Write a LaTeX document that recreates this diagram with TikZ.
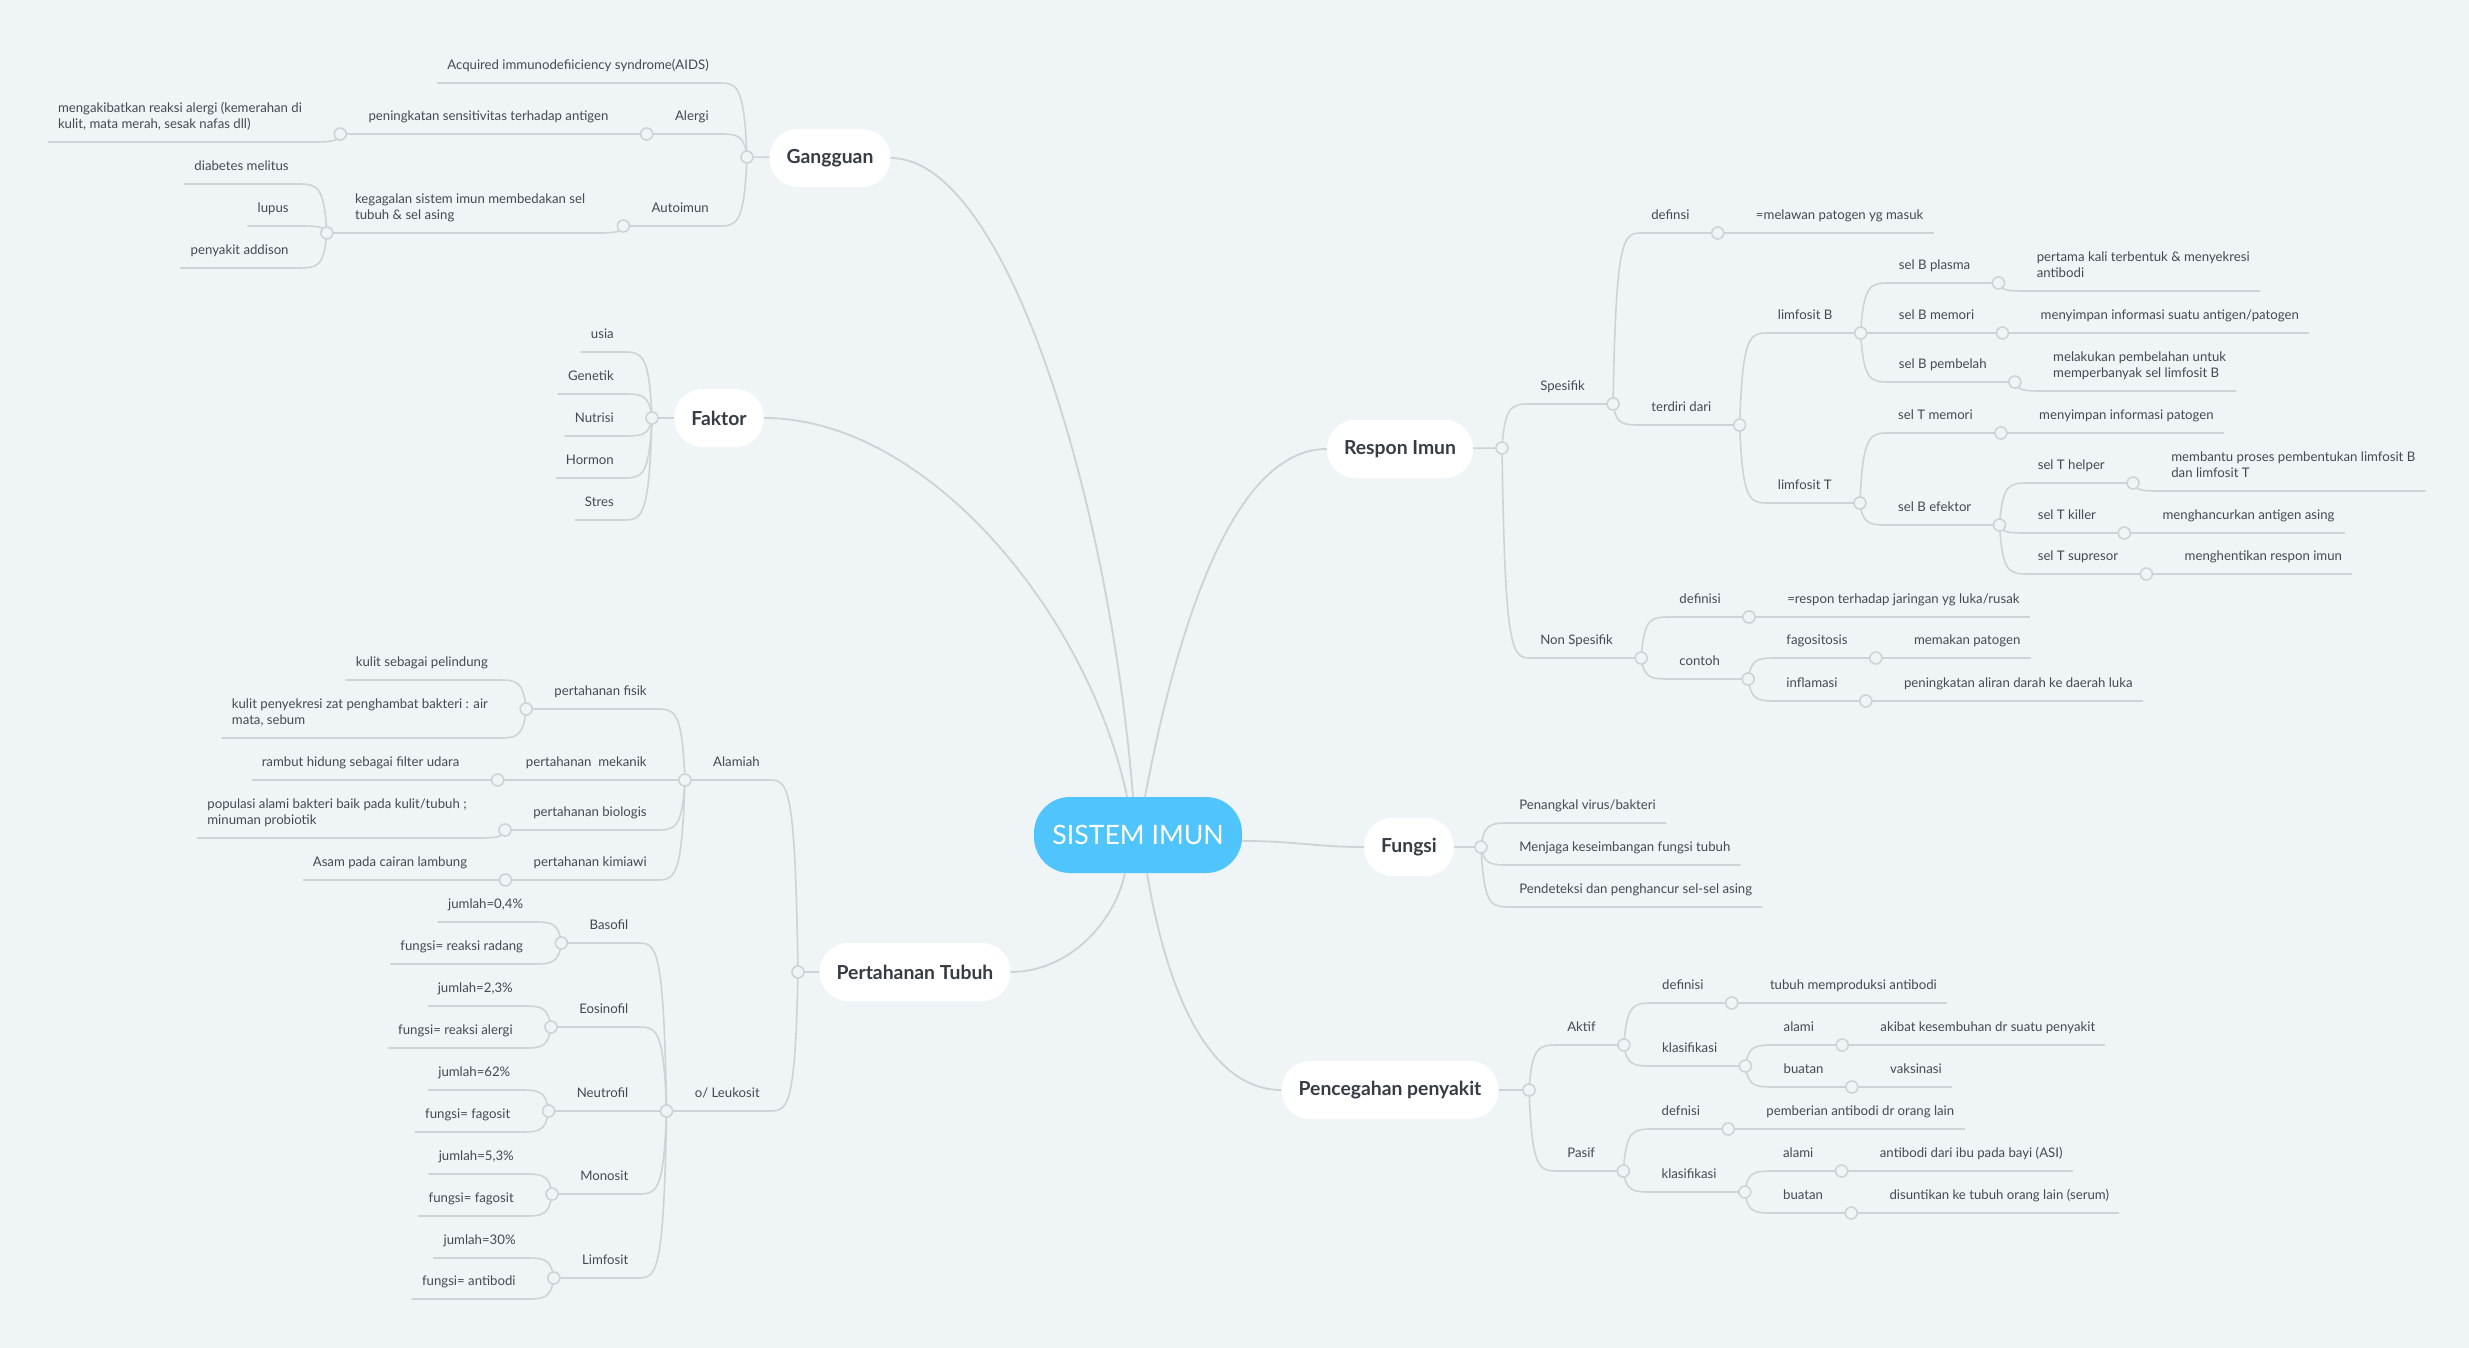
\documentclass[tikz,border=0pt]{standalone}
\usepackage{fontspec}
\setmainfont{Lato}
\usetikzlibrary{calc}

\definecolor{paper}{HTML}{EFF4F7}
\definecolor{wire}{HTML}{CED3D7}
\definecolor{ink}{HTML}{434A51}
\definecolor{topicink}{HTML}{353C43}
\definecolor{hubblue}{HTML}{50C4FD}

\pgfdeclarelayer{front}
\pgfsetlayers{main,front}

\newcommand{\twoline}[2]{\begin{tabular}[b]{@{}l@{}}#1\\#2\end{tabular}}
\newcommand{\joint}[1]{\begin{pgfonlayer}{front}\draw[joint] (#1) circle (6);\end{pgfonlayer}}

% child growing to the left of its parent junction
\newcommand{\kidL}[4]{%
  \path (#2) ++(-28,0) coordinate (#1-x) (0,#3) coordinate (#1-y);
  \node[lbl, anchor=south east] (#1) at (#1-x |- #1-y) {#4};
  \coordinate (#1-j) at ($(#1.south west)+(-18,0)$);
  \coordinate (#1-c) at (#2 |- #1-y);
  \draw[twig] (#2) .. controls ($(#1-c)+(-3,0)$) and ($(#1-c)+(-10,0)$) .. ($(#1-c)+(-30,0)$)}
\newcommand{\leafL}[4]{\kidL{#1}{#2}{#3}{#4} -- (#1.south west);}
\newcommand{\stemL}[4]{\kidL{#1}{#2}{#3}{#4} -- (#1-j); \joint{#1-j}}

% child growing to the right of its parent junction
\newcommand{\kidR}[4]{%
  \path (#2) ++(28,0) coordinate (#1-x) (0,#3) coordinate (#1-y);
  \node[lbl, anchor=south west] (#1) at (#1-x |- #1-y) {#4};
  \coordinate (#1-j) at ($(#1.south east)+(18,0)$);
  \coordinate (#1-c) at (#2 |- #1-y);
  \draw[twig] (#2) .. controls ($(#1-c)+(3,0)$) and ($(#1-c)+(10,0)$) .. ($(#1-c)+(30,0)$)}
\newcommand{\leafR}[4]{\kidR{#1}{#2}{#3}{#4} -- (#1.south east);}
\newcommand{\stemR}[4]{\kidR{#1}{#2}{#3}{#4} -- (#1-j); \joint{#1-j}}

\begin{document}
\begin{tikzpicture}[x=0.75pt, y=-0.75pt,
    hub/.style={fill=hubblue, rounded corners=27pt, minimum width=156pt, minimum height=57pt,
      text=white, font=\fontsize{20}{24}\selectfont},
    topic/.style={fill=white, rounded corners=21pt, minimum height=43.5pt, inner xsep=12.75pt,
      text=topicink, font=\bfseries\fontsize{14.5}{17}\selectfont},
    lbl/.style={inner xsep=7.5pt, inner ysep=0pt, text depth=9.75pt, text=ink,
      font=\fontsize{9.9}{12}\selectfont},
    twig/.style={draw=wire, line width=1.2pt},
    trunk/.style={draw=wire, line width=1.4pt},
    joint/.style={draw=wire, line width=1.2pt, fill=paper}]

\fill[paper] (0,0) rectangle (2469,1348);
\useasboundingbox (0,0) rectangle (2469,1348);

\node[hub] (hub) at (1138,835) {SISTEM IMUN};
\node[topic] (gang) at (830,158) {Gangguan};
\node[topic] (faktor) at (719,418) {Faktor};
\node[topic] (pertahanan) at (915,972) {Pertahanan Tubuh};
\node[topic] (respon) at (1400,449) {Respon Imun};
\node[topic] (fungsi) at (1409,847) {Fungsi};
\node[topic] (cegah) at (1390,1090) {Pencegahan penyakit};

\draw[trunk] ($(hub.north)+(-5,0)$) .. controls +(-24,-300) and +(115,0) .. (gang.east);
\draw[trunk] ($(hub.north)+(-11,0)$) .. controls +(-37,-178) and +(166,0) .. (faktor.east);
\draw[trunk] ($(hub.north)+(7,0)$) .. controls +(30,-158) and +(-97,0) .. (respon.west);
\draw[trunk] ($(hub.south)+(-13,0)$) .. controls +(-10,47) and +(60,0) .. (pertahanan.east);
\draw[trunk] ($(hub.south)+(9,0)$) .. controls +(23,137) and +(-65,0) .. (cegah.west);
\draw[trunk] ($(hub.east)+(0,6)$) .. controls +(55,0) and +(-50,0) .. (fungsi.west);

\coordinate (gang-j) at (747,157);
\coordinate (faktor-j) at (652,418);
\coordinate (pertahanan-j) at (798,972);
\coordinate (respon-j) at (1502,448);
\coordinate (fungsi-j) at (1481,847);
\coordinate (cegah-j) at (1529,1090);
\foreach \t in {gang, faktor, pertahanan, respon, fungsi, cegah} {
  \draw[twig] (\t) -- (\t-j);
  \joint{\t-j}
}

% Gangguan
\leafL{aids}{gang-j}{83}{Acquired immunodefiiciency syndrome(AIDS)}
\stemL{alergi}{gang-j}{134}{Alergi}
\stemL{sensi}{alergi-j}{134}{peningkatan sensitivitas terhadap antigen}
\leafL{reaksi}{sensi-j}{142}{\twoline{mengakibatkan reaksi alergi (kemerahan di}{kulit, mata merah, sesak nafas dll)}}
\stemL{autoimun}{gang-j}{226}{Autoimun}
\stemL{gagal}{autoimun-j}{233}{\twoline{kegagalan sistem imun membedakan sel}{tubuh \& sel asing}}
\leafL{diabetes}{gagal-j}{184}{diabetes melitus}
\leafL{lupus}{gagal-j}{226}{lupus}
\leafL{addison}{gagal-j}{268}{penyakit addison}

% Faktor
\leafL{usia}{faktor-j}{352}{usia}
\leafL{genetik}{faktor-j}{394}{Genetik}
\leafL{nutrisi}{faktor-j}{436}{Nutrisi}
\leafL{hormon}{faktor-j}{478}{Hormon}
\leafL{stres}{faktor-j}{520}{Stres}

% Pertahanan Tubuh
\stemL{alamiah}{pertahanan-j}{780}{Alamiah}
\stemL{fisik}{alamiah-j}{709}{pertahanan fisik}
\leafL{kulit}{fisik-j}{680}{kulit sebagai pelindung}
\leafL{sekresi}{fisik-j}{738}{\twoline{kulit penyekresi zat penghambat bakteri : air}{mata, sebum}}
\stemL{mekanik}{alamiah-j}{780}{pertahanan\ \ mekanik}
\leafL{rambut}{mekanik-j}{780}{rambut hidung sebagai filter udara}
\stemL{biologis}{alamiah-j}{830}{pertahanan biologis}
\leafL{probiotik}{biologis-j}{838}{\twoline{populasi alami bakteri baik pada kulit/tubuh ;}{minuman probiotik}}
\stemL{kimiawi}{alamiah-j}{880}{pertahanan kimiawi}
\leafL{asam}{kimiawi-j}{880}{Asam pada cairan lambung}
\stemL{leukosit}{pertahanan-j}{1111}{o/ Leukosit}
\stemL{basofil}{leukosit-j}{943}{Basofil}
\leafL{basofila}{basofil-j}{922}{jumlah=0,4\%}
\leafL{basofilb}{basofil-j}{964}{fungsi= reaksi radang}
\stemL{eosinofil}{leukosit-j}{1027}{Eosinofil}
\leafL{eosinofila}{eosinofil-j}{1006}{jumlah=2,3\%}
\leafL{eosinofilb}{eosinofil-j}{1048}{fungsi= reaksi alergi}
\stemL{neutrofil}{leukosit-j}{1111}{Neutrofil}
\leafL{neutrofila}{neutrofil-j}{1090}{jumlah=62\%}
\leafL{neutrofilb}{neutrofil-j}{1132}{fungsi= fagosit}
\stemL{monosit}{leukosit-j}{1194}{Monosit}
\leafL{monosita}{monosit-j}{1174}{jumlah=5,3\%}
\leafL{monositb}{monosit-j}{1216}{fungsi= fagosit}
\stemL{limfosit}{leukosit-j}{1278}{Limfosit}
\leafL{limfosita}{limfosit-j}{1258}{jumlah=30\%}
\leafL{limfositb}{limfosit-j}{1299}{fungsi= antibodi}

% Respon Imun
\stemR{spesifik}{respon-j}{404}{Spesifik}
\stemR{sdef}{spesifik-j}{233}{definsi}
\leafR{lawan}{sdef-j}{233}{=melawan patogen yg masuk}
\stemR{terdiri}{spesifik-j}{425}{terdiri dari}
\stemR{limb}{terdiri-j}{333}{limfosit B}
\stemR{plasma}{limb-j}{283}{sel B plasma}
\leafR{pertama}{plasma-j}{291}{\twoline{pertama kali terbentuk \& menyekresi}{antibodi}}
\stemR{bmemori}{limb-j}{333}{sel B memori}
\leafR{simpanb}{bmemori-j}{333}{menyimpan informasi suatu antigen/patogen}
\stemR{belah}{limb-j}{382}{sel B pembelah}
\leafR{banyak}{belah-j}{391}{\twoline{melakukan pembelahan untuk}{memperbanyak sel limfosit B}}
\stemR{limt}{terdiri-j}{503}{limfosit T}
\stemR{tmemori}{limt-j}{433}{sel T memori}
\leafR{simpant}{tmemori-j}{433}{menyimpan informasi patogen}
\stemR{efektor}{limt-j}{525}{sel B efektor}
\stemR{helper}{efektor-j}{483}{sel T helper}
\leafR{bantu}{helper-j}{491}{\twoline{membantu proses pembentukan limfosit B}{dan limfosit T}}
\stemR{killer}{efektor-j}{533}{sel T killer}
\leafR{hancur}{killer-j}{533}{menghancurkan antigen asing}
\stemR{supresor}{efektor-j}{574}{sel T supresor}
\leafR{henti}{supresor-j}{574}{menghentikan respon imun}
\stemR{nonspes}{respon-j}{658}{Non Spesifik}
\stemR{ndef}{nonspes-j}{617}{definisi}
\leafR{rusak}{ndef-j}{617}{=respon terhadap jaringan yg luka/rusak}
\stemR{contoh}{nonspes-j}{679}{contoh}
\stemR{fagosi}{contoh-j}{658}{fagositosis}
\leafR{makan}{fagosi-j}{658}{memakan patogen}
\stemR{inflam}{contoh-j}{701}{inflamasi}
\leafR{aliran}{inflam-j}{701}{peningkatan aliran darah ke daerah luka}

% Fungsi
\leafR{tangkal}{fungsi-j}{823}{Penangkal virus/bakteri}
\leafR{jaga}{fungsi-j}{865}{Menjaga keseimbangan fungsi tubuh}
\leafR{deteksi}{fungsi-j}{907}{Pendeteksi dan penghancur sel-sel asing}

% Pencegahan penyakit
\stemR{aktif}{cegah-j}{1045}{Aktif}
\stemR{adef}{aktif-j}{1003}{definisi}
\leafR{produksi}{adef-j}{1003}{tubuh memproduksi antibodi}
\stemR{aklas}{aktif-j}{1066}{klasifikasi}
\stemR{aalami}{aklas-j}{1045}{alami}
\leafR{sembuh}{aalami-j}{1045}{akibat kesembuhan dr suatu penyakit}
\stemR{abuatan}{aklas-j}{1087}{buatan}
\leafR{vaksin}{abuatan-j}{1087}{vaksinasi}
\stemR{pasif}{cegah-j}{1171}{Pasif}
\stemR{pdef}{pasif-j}{1129}{defnisi}
\leafR{beri}{pdef-j}{1129}{pemberian antibodi dr orang lain}
\stemR{pklas}{pasif-j}{1192}{klasifikasi}
\stemR{palami}{pklas-j}{1171}{alami}
\leafR{asi}{palami-j}{1171}{antibodi dari ibu pada bayi (ASI)}
\stemR{pbuatan}{pklas-j}{1213}{buatan}
\leafR{serum}{pbuatan-j}{1213}{disuntikan ke tubuh orang lain (serum)}
\end{tikzpicture}
\end{document}
